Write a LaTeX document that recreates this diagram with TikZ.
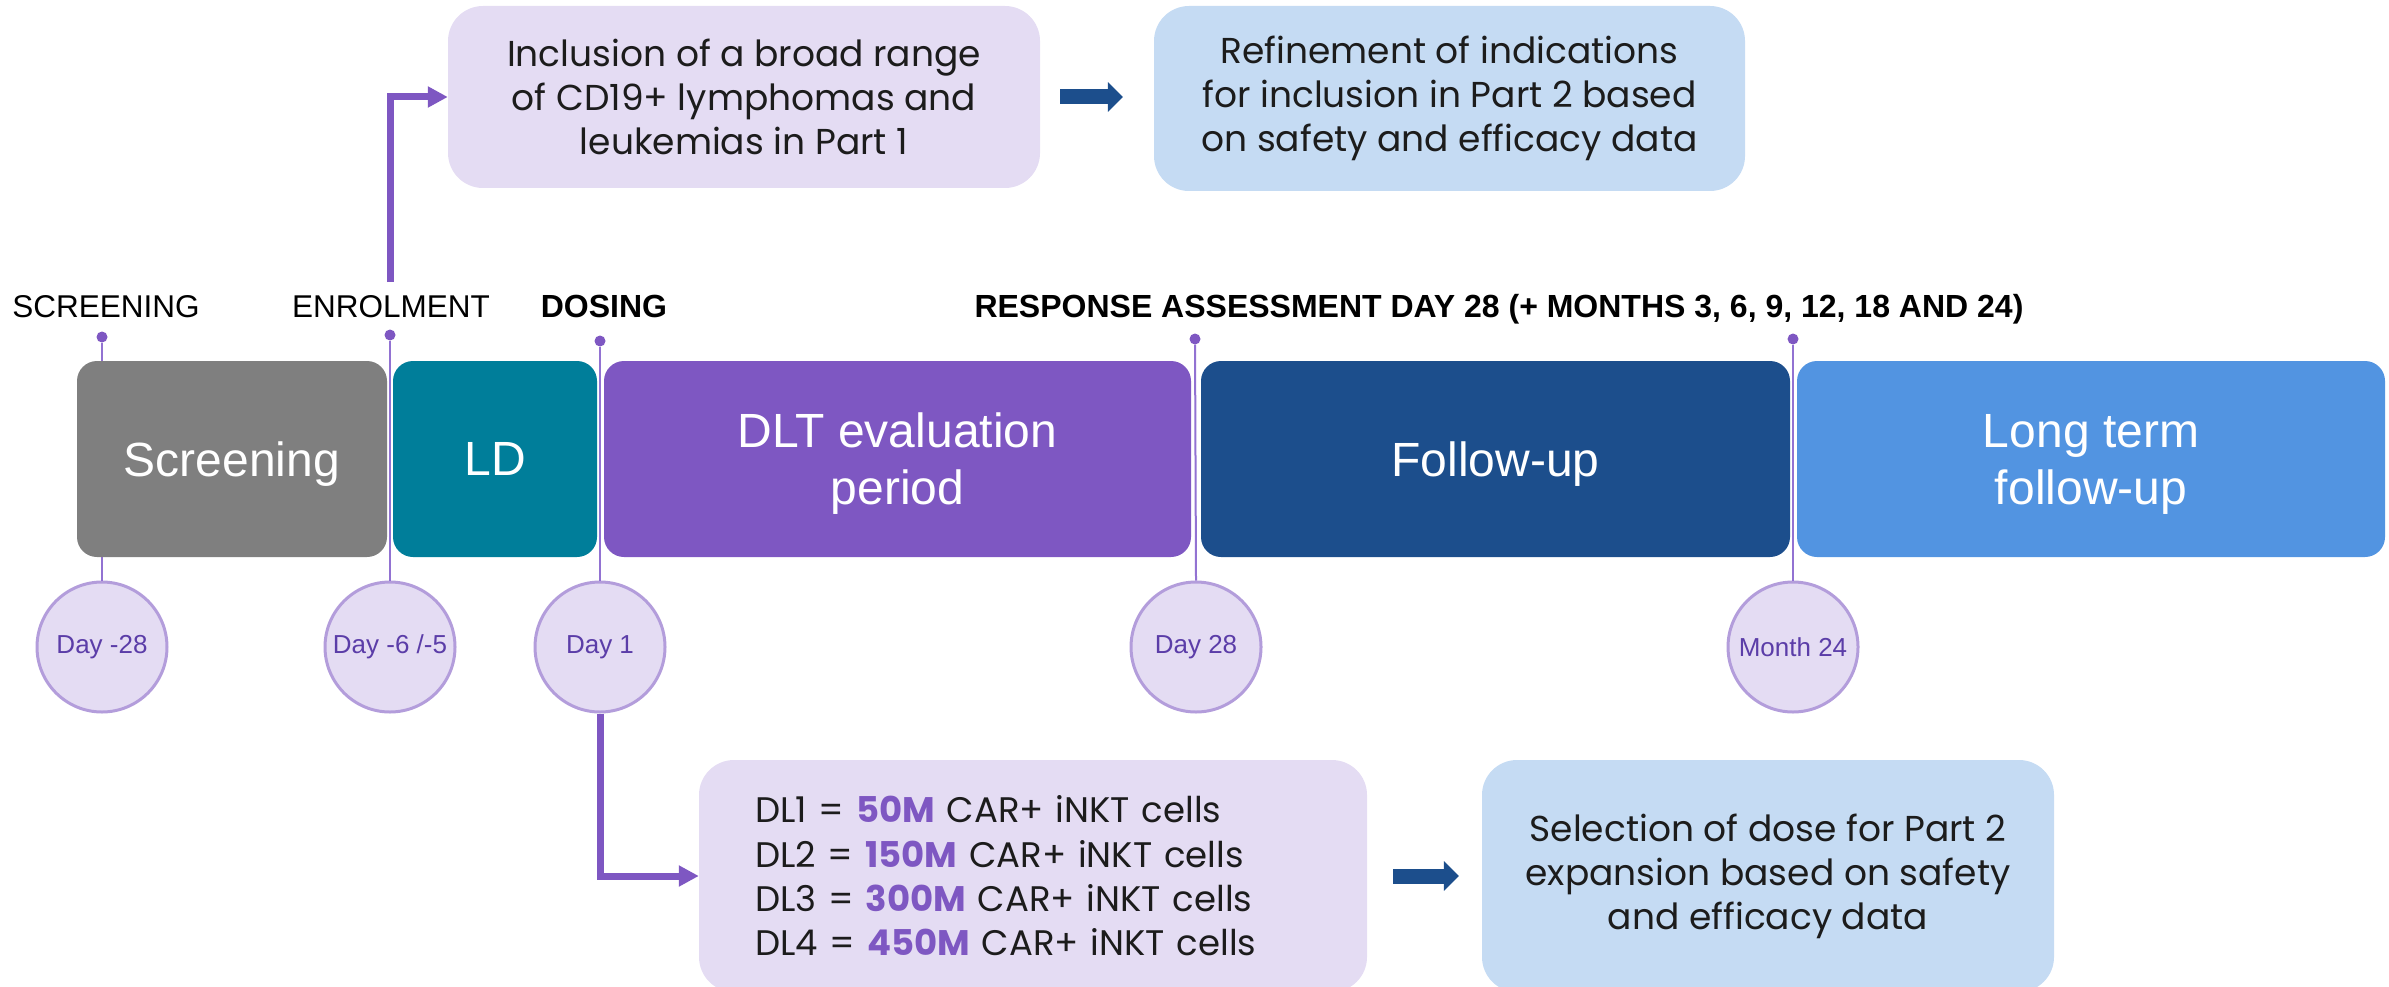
\documentclass[tikz,border=0pt]{standalone}
\usepackage{fontspec}
\setmainfont{Liberation Sans}
\newfontfamily\popfont{Poppins}
\usetikzlibrary{arrows.meta}
\definecolor{cgray}{HTML}{7F7F7F}
\definecolor{cteal}{HTML}{007E9A}
\definecolor{cpurple}{HTML}{7E57C2}
\definecolor{cnavy}{HTML}{1C4E8C}
\definecolor{cblue}{HTML}{5294E1}
\definecolor{clav}{HTML}{E4DCF3}
\definecolor{clight}{HTML}{C5DBF3}
\definecolor{cring}{HTML}{B39DDB}
\definecolor{cday}{HTML}{5B3DA8}
\definecolor{cline}{HTML}{9272D2}
\definecolor{cdark}{HTML}{1C1C1C}
\tikzset{
  phase/.style={rounded corners=20pt, minimum height=196pt, inner sep=0pt, text=white,
    align=center, text depth=0pt, font=\fontsize{48}{57}\selectfont},
  daycirc/.style={circle, minimum size=130pt, inner sep=0pt, fill=clav, draw=cring,
    line width=3pt, text=cday, font=\fontsize{26}{30}\selectfont},
  dotmark/.style={circle, fill=cpurple, minimum size=11pt, inner sep=0pt},
  toplabel/.style={anchor=base, text=black, font=\fontsize{31.5}{36}\selectfont},
  boldlabel/.style={anchor=base, text=black, font=\fontsize{32}{36}\selectfont\bfseries},
  tline/.style={draw=cline, line width=2pt},
  infobox/.style={rounded corners=35pt, inner sep=0pt, align=center, text=cdark,
    font=\popfont\fontsize{36}{44}\selectfont},
  elbow/.style={draw=cpurple, line width=7pt, -{Triangle[length=20pt,width=20pt]}},
  bigarr/.style={draw=cnavy, line width=15pt, -{Triangle[length=15pt,width=29pt]}}
}
\begin{document}
\begin{tikzpicture}[x=1pt,y=-1pt]
\clip (0,0) rectangle (2389,987);

% top labels
\node[toplabel] (lscr) at (106,317) {SCREENING};
\node[toplabel] (lenr) at (391,317) {ENROLMENT};
\node[boldlabel] (ldos) at (604,317) {DOSING};
\node[boldlabel] (lresp) at (1499,317) {RESPONSE ASSESSMENT DAY 28 (+ MONTHS 3, 6, 9, 12, 18 AND 24)};

% dots
\node[dotmark] (dscr) at (102,337) {};
\node[dotmark] (denr) at (390,335) {};
\node[dotmark] (ddos) at (600,341) {};
\node[dotmark] (dd28) at (1195,339) {};
\node[dotmark] (dm24) at (1793,339) {};

% day circles
\node[daycirc] (cscr) at (102,647) {Day -28};
\node[daycirc] (cenr) at (390,647) {Day -6 /-5};
\node[daycirc] (cdos) at (600,647) {Day 1};
\node[daycirc] (cd28) at (1196,647) {Day 28};
\node[daycirc] (cm24) at (1793,647) {Month 24};

% timeline lines (drawn before the boxes, so the boxes cover them)
\draw[tline] (dscr) -- (cscr.north);
\draw[tline] (denr) -- (cenr.north);
\draw[tline] (ddos) -- (cdos.north);
\draw[tline] (dd28) -- (cd28.north);
\draw[tline] (dm24) -- (cm24.north);

% phase boxes
\node[phase, fill=cgray, minimum width=310pt] (pscr) at (232,459) {Screening};
\node[phase, fill=cteal, minimum width=204pt] (pld) at (495,459) {LD};
\node[phase, fill=cpurple, minimum width=587pt] (pdlt) at (897.5,459) {DLT evaluation\\period};
\node[phase, fill=cnavy, minimum width=589pt] (pfu) at (1495.5,459) {Follow-up};
\node[phase, fill=cblue, minimum width=588pt] (plt) at (2091,459) {Long term\\follow-up};

% top boxes
\node[infobox, fill=clav, minimum width=592pt, minimum height=182pt] (incl) at (744,97)
  {Inclusion of a broad range\\of CD19+ lymphomas and\\leukemias in Part 1};
\node[infobox, fill=clight, minimum width=591pt, minimum height=185pt] (refine) at (1449.5,98.5)
  {Refinement of indications\\for inclusion in Part 2 based\\on safety and efficacy data};

% bottom boxes
\node[infobox, fill=clav, minimum height=232pt, inner xsep=56pt, text width=556pt, align=left,
  font=\popfont\fontsize{35.5}{44.3}\selectfont] (dl) at (1033,876)
  {DL1 = {\color{cpurple}\bfseries 50M} CAR+ iNKT cells\\
   DL2 = {\color{cpurple}\bfseries 150M} CAR+ iNKT cells\\
   DL3 = {\color{cpurple}\bfseries 300M} CAR+ iNKT cells\\
   DL4 = {\color{cpurple}\bfseries 450M} CAR+ iNKT cells};
\node[infobox, fill=clight, minimum width=572pt, minimum height=232pt] (sel) at (1768,876)
  {Selection of dose for Part 2\\expansion based on safety\\and efficacy data};

% connectors
\coordinate (enrstart) at (390,282);
\draw[elbow] (enrstart) |- (incl.west);
\draw[elbow] (cdos.south) |- (dl.west);
\draw[bigarr, shorten <=20pt, shorten >=31pt] (incl.east) -- (incl.east -| refine.west);
\draw[bigarr, shorten <=26pt, shorten >=23pt] (dl.east) -- (sel.west);
\end{tikzpicture}
\end{document}
